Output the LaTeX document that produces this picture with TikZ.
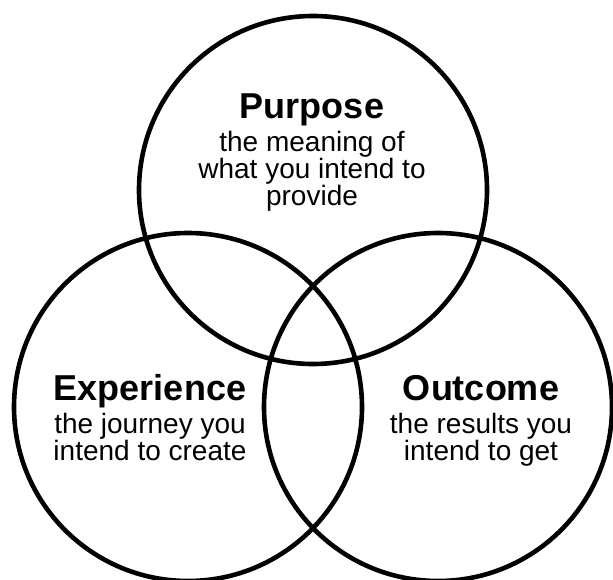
\documentclass[tikz,border=0pt]{standalone}
\usepackage{fontspec}
\setmainfont{Liberation Sans}
\begin{document}
\begin{tikzpicture}[x=1pt,y=-1pt,
  ring/.style={draw=black,line width=4.6pt},
  ttl/.style={font=\fontsize{36}{38}\selectfont\bfseries,inner sep=0pt,anchor=base},
  bdy/.style={font=\fontsize{28}{25}\selectfont,align=center,inner sep=0pt,anchor=north}]
\useasboundingbox (0,0) rectangle (613,580);
\coordinate (ct) at (313,190);
\coordinate (cl) at (188,407);
\coordinate (cr) at (438,407);
\draw[ring] (ct) circle[radius=174];
\draw[ring] (cl) circle[radius=174];
\draw[ring] (cr) circle[radius=174];
\node[ttl] (pt) at (312,119) {Purpose};
\node[bdy] (pb) at (312,131) {the meaning of\\what you intend to\\provide};
\node[ttl] (et) at (150,400) {Experience};
\node[bdy] (eb) at (150,413) {the journey you\\intend to create};
\node[ttl] (ot) at (481,400) {Outcome};
\node[bdy] (ob) at (481,413) {the results you\\intend to get};
\end{tikzpicture}
\end{document}
